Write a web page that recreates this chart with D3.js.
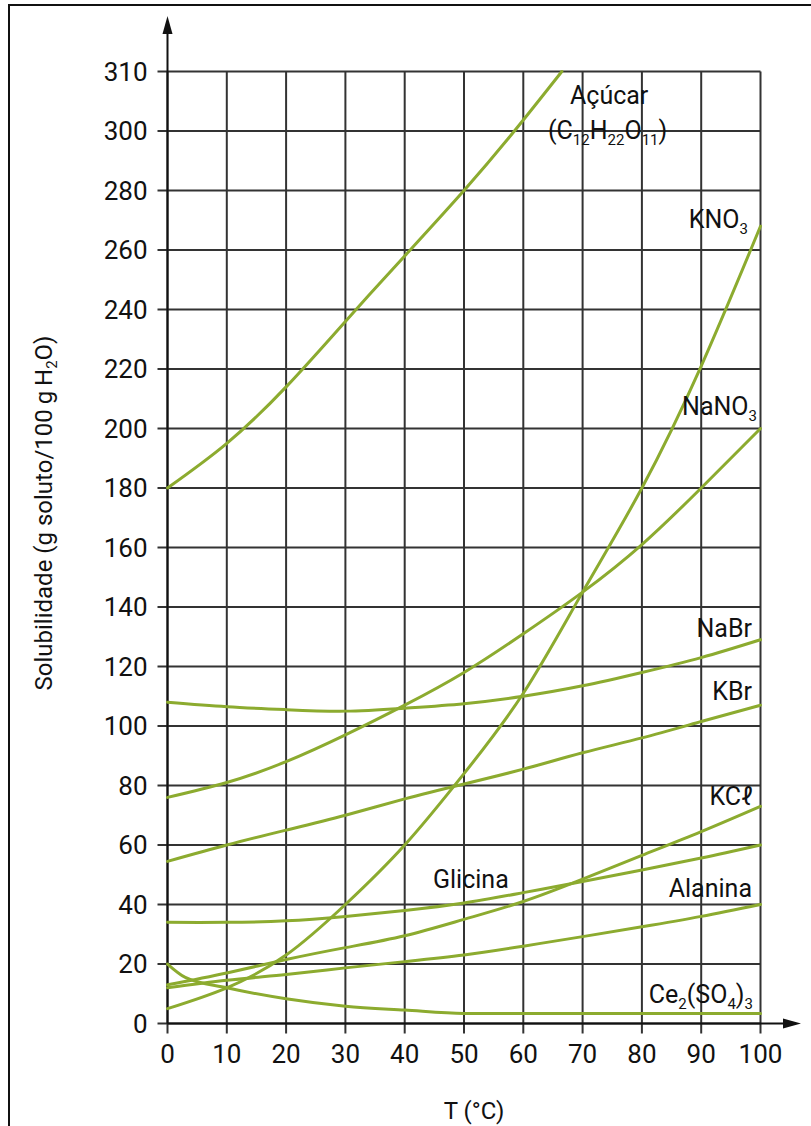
<!DOCTYPE html>
<html>
<head>
<meta charset="utf-8">
<script src="https://cdn.jsdelivr.net/npm/d3@7"></script>
<style>
  html, body { margin: 0; padding: 0; background: #fff; }
  svg { display: block; }
</style>
</head>
<body>
<svg id="chart" width="811" height="1126"></svg>
<script>
// Temperature (°C) sampled along each curve
const temps = [0, 10, 20, 30, 40, 50, 60, 70, 80, 90, 100];

// Solubility, g solute / 100 g H2O
const acucarT = [0, 10, 20, 30, 40, 50, 58.5, 66.5];
const acucar  = [180, 195, 214, 236, 258, 280, 300, 310];
const kno3    = [5, 12, 23, 40, 60, 84, 111, 145, 180, 221, 268];
const nano3   = [76, 81, 88, 97, 107, 118, 131, 145, 161, 180, 200];
const nabr    = [108, 106.5, 105.5, 105, 106, 107.5, 110, 113.5, 118, 123, 129];
const kbr     = [54.5, 60, 65, 70, 75.5, 80.5, 85.5, 91, 96, 101.5, 107];
const kcl     = [13, 17, 21.5, 25.5, 29.5, 35, 41, 48.5, 56.5, 64.5, 73];
const glicina = [34, 34, 34.5, 36, 38, 40.5, 44, 47.7, 51.6, 55.6, 60];
const alanina = [12, 14.5, 16.5, 18.7, 20.8, 23, 26, 29.2, 32.5, 36, 40];
const ceT     = [0, 3, 10, 20, 30, 40, 50, 60, 70, 80, 90, 100];
const ce2so43 = [20, 15.5, 12, 8.3, 5.8, 4.5, 3.4, 3.4, 3.4, 3.4, 3.4, 3.4];

// Axis ticks
const xTicks = [0, 10, 20, 30, 40, 50, 60, 70, 80, 90, 100];
const yTicks = [0, 20, 40, 60, 80, 100, 120, 140, 160, 180, 200, 220, 240, 260, 280, 300, 310];

const svg = d3.select("#chart");
const FONT = "Roboto, 'DejaVu Sans Condensed', 'Liberation Sans Narrow', sans-serif";
const GREEN = "#8cab2f";

const x = d3.scaleLinear().domain([0, 100]).range([167.5, 760.5]);
// The last grid row spans 300–310 at the same height as a 20-unit row
const y = d3.scaleLinear().domain([0, 300, 310]).range([1023.5, 131, 71.5]);

// Outer frame
svg.append("rect")
  .attr("x", 9).attr("y", 5).attr("width", 840).attr("height", 1160)
  .attr("fill", "none").attr("stroke", "#111").attr("stroke-width", 2);

// Grid
const grid = svg.append("g").attr("stroke", "#333").attr("stroke-width", 2);
grid.selectAll("line.v").data(xTicks).join("line")
  .attr("x1", d => x(d)).attr("x2", d => x(d))
  .attr("y1", y(310)).attr("y2", y(0) + 10);
grid.selectAll("line.h").data(yTicks).join("line")
  .attr("x1", x(0) - 10).attr("x2", x(100))
  .attr("y1", d => y(d)).attr("y2", d => y(d));

// Axes with arrowheads
const axes = svg.append("g").attr("stroke", "#111").attr("stroke-width", 2);
axes.append("line").attr("x1", x(0)).attr("x2", x(0)).attr("y1", y(0)).attr("y2", 24);
axes.append("line").attr("x1", x(0)).attr("x2", 790).attr("y1", y(0)).attr("y2", y(0));
svg.append("path")
  .attr("d", `M${x(0)},16 L${x(0) - 5},34 L${x(0) + 5},34 Z`).attr("fill", "#111");
svg.append("path")
  .attr("d", `M801,${y(0)} L783,${y(0) - 5} L783,${y(0) + 5} Z`).attr("fill", "#111");

// Tick labels
svg.append("g").selectAll("text").data(yTicks).join("text")
  .attr("x", x(0) - 20).attr("y", d => y(d)).attr("dy", "0.36em")
  .attr("text-anchor", "end")
  .attr("font-family", FONT).attr("font-size", 26).attr("fill", "#111")
  .text(d => d);
svg.append("g").selectAll("text").data(xTicks).join("text")
  .attr("x", d => x(d)).attr("y", y(0) + 39)
  .attr("text-anchor", "middle")
  .attr("font-family", FONT).attr("font-size", 26).attr("fill", "#111")
  .text(d => d);

// Axis titles
svg.append("text")
  .attr("x", 474).attr("y", 1119).attr("text-anchor", "middle")
  .attr("font-family", FONT).attr("font-size", 24).attr("fill", "#111")
  .text("T (°C)");

const yTitle = svg.append("text")
  .attr("transform", "translate(52,513) rotate(-90)")
  .attr("text-anchor", "middle")
  .attr("font-family", FONT).attr("font-size", 24).attr("fill", "#111");
yTitle.append("tspan").text("Solubilidade (g soluto/100\u2009g\u2009H");
yTitle.append("tspan").attr("dy", 5).attr("font-size", 15).text("2");
yTitle.append("tspan").attr("dy", -5).text("O)");

// Curves: smooth natural splines, monotone for the flattening Ce2(SO4)3 curve
const series = [
  { t: acucarT, v: acucar, c: d3.curveNatural },
  { t: temps, v: kno3, c: d3.curveNatural },
  { t: temps, v: nano3, c: d3.curveNatural },
  { t: temps, v: nabr, c: d3.curveNatural },
  { t: temps, v: kbr, c: d3.curveNatural },
  { t: temps, v: kcl, c: d3.curveNatural },
  { t: temps, v: glicina, c: d3.curveNatural },
  { t: temps, v: alanina, c: d3.curveNatural },
  { t: ceT, v: ce2so43, c: d3.curveMonotoneX }
];
svg.append("g").selectAll("path").data(series).join("path")
  .attr("d", s => d3.line().x(d => x(d[0])).y(d => y(d[1])).curve(s.c)(s.t.map((t, i) => [t, s.v[i]])))
  .attr("fill", "none").attr("stroke", GREEN).attr("stroke-width", 3)
  .attr("stroke-linecap", "round");

// Curve labels: segments of [text, isSubscript]
function label(px, py, anchor, parts) {
  const t = svg.append("text")
    .attr("x", px).attr("y", py).attr("text-anchor", anchor)
    .attr("font-family", FONT).attr("font-size", 25).attr("fill", "#111");
  let sub = false;
  parts.forEach(([s, isSub]) => {
    const ts = t.append("tspan").text(s);
    if (isSub && !sub) ts.attr("dy", 6).attr("font-size", 15);
    else if (isSub) ts.attr("font-size", 15);
    else if (!isSub && sub) ts.attr("dy", -6);
    sub = isSub;
  });
}
label(570, 104, "start", [["Açúcar", false]]);
label(548, 139, "start", [["(C", false], ["12", true], ["H", false], ["22", true], ["O", false], ["11", true], [")", false]]);
label(748, 228, "end", [["KNO", false], ["3", true]]);
label(757, 415, "end", [["NaNO", false], ["3", true]]);
label(752, 637, "end", [["NaBr", false]]);
label(752, 700, "end", [["KBr", false]]);
label(753, 805, "end", [["KC\u2113", false]]);
label(433, 888, "start", [["Glicina", false]]);
label(752, 897, "end", [["Alanina", false]]);
label(753, 1003, "end", [["Ce", false], ["2", true], ["(SO", false], ["4", true], [")", false], ["3", true]]);
</script>
</body>
</html>
